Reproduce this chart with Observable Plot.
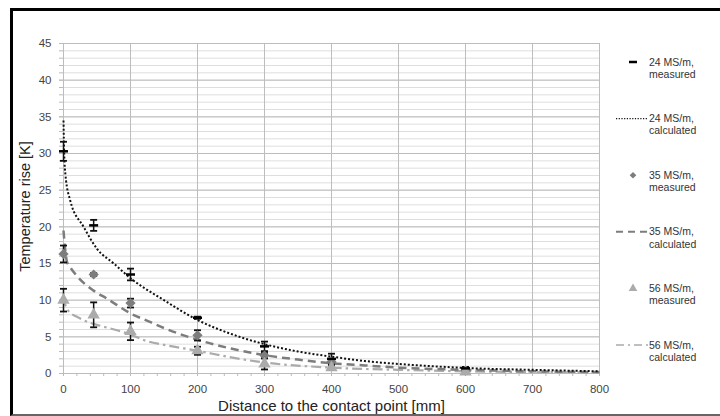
<!DOCTYPE html>
<html>
<head>
<meta charset="utf-8">
<script src="https://cdn.jsdelivr.net/npm/d3@7"></script>
<script src="https://cdn.jsdelivr.net/npm/@observablehq/plot@0.6"></script>
<style>
  html, body { margin: 0; padding: 0; background: #fff; }
  #wrap { position: relative; width: 720px; height: 416px; overflow: hidden; font-family: "Liberation Sans", Arial, sans-serif; }
  #border { position: absolute; left: 10px; top: 8px; width: 730px; height: 403px; border-top: 3px solid #000; border-left: 3px solid #000; border-bottom: 2px solid #666; pointer-events: none; }
  svg { display: block; }
</style>
</head>
<body>
<div id="wrap"><div id="border"></div></div>
<script>
// ---- data ----
const distances = [0, 45, 100, 200, 300, 400, 600];
const meas24 = [30.3, 20.2, 13.5, 7.6, 3.7, 2.0, 0.7];
const err24  = [1.3, 0.75, 0.8, 0.15, 0.65, 0.7, 0.2];
const meas35 = [16.3, 13.5, 9.6, 5.2, 2.45, 1.6, 0.4];
const err35  = [1.15, 0.2, 0.6, 0.7, 0.35, 0.3, 0.15];
const meas56 = [10.0, 8.0, 5.75, 3.1, 1.3, 0.8, 0.2];
const err56  = [1.55, 1.7, 1.2, 0.55, 0.75, 0.25, 0.15];

const calcX24 = [0, 1, 3, 10, 30, 50, 75, 100, 150, 200, 250, 300, 350, 400, 450, 500, 550, 600, 700, 800];
const calc24  = [34.5, 30, 27, 23.6, 20, 17, 15, 13, 10, 7.3, 5.4, 4.0, 3.0, 2.3, 1.7, 1.3, 1.0, 0.75, 0.5, 0.3];
const calcX35 = [0, 3, 5, 10, 20, 45, 65, 100, 130, 150, 200, 250, 300, 350, 400, 450, 500, 600, 700, 800];
const calc35  = [19.5, 16.5, 15.3, 14.5, 13.3, 11.3, 10.2, 8.2, 7.0, 6.2, 4.6, 3.4, 2.5, 1.9, 1.4, 1.1, 0.8, 0.5, 0.3, 0.2];
const calcX56 = [0, 5, 25, 55, 80, 100, 125, 150, 200, 250, 300, 400, 500, 600, 700, 800];
const calc56  = [10.5, 8.8, 7.5, 6.5, 5.9, 5.3, 4.4, 3.9, 3.1, 2.2, 1.5, 0.8, 0.5, 0.3, 0.2, 0.15];

const xTicks = [0, 100, 200, 300, 400, 500, 600, 700, 800];
const yTicks = [0, 5, 10, 15, 20, 25, 30, 35, 40, 45];
const xTitle = "Distance to the contact point [mm]";
const yTitle = "Temperature rise [K]";
const legendLabels = [
  ["24 MS/m,", "measured"],
  ["24 MS/m,", "calculated"],
  ["35 MS/m,", "measured"],
  ["35 MS/m,", "calculated"],
  ["56 MS/m,", "measured"],
  ["56 MS/m,", "calculated"]
];

// ---- styles ----
const C24 = "#111", C35 = "#7d7d7d", C56 = "#ababab";
const dash24 = "2,2", dash35 = "8,5", dash56 = "10,4,2.5,4";

const hline = { draw(ctx, size) { const r = Math.sqrt(size / Math.PI); ctx.moveTo(-r, 0); ctx.lineTo(r, 0); } };

const rows = (xs, ys, es) => xs.map((x, i) => ({x, y: ys[i], e: es[i]}));
const m24 = rows(distances, meas24, err24);
const m35 = rows(distances, meas35, err35);
const m56 = rows(distances, meas56, err56);
const allMeas = [...m24, ...m35, ...m56];
const line = (xs, ys) => xs.map((x, i) => ({x, y: ys[i]}));

const minorY = d3.range(0, 46, 1);
const minorX = d3.range(0, 801, 20);

const chart = Plot.plot({
  width: 720, height: 416,
  marginLeft: 63, marginRight: 121, marginTop: 43, marginBottom: 43,
  x: { domain: [0, 800] },
  y: { domain: [0, 45] },
  style: { fontFamily: "Liberation Sans, Arial, sans-serif", background: "transparent" },
  marks: [
    Plot.ruleY(minorY, { stroke: "#dedede", strokeWidth: 1 }),
    Plot.ruleY(yTicks, { stroke: "#bdbdbd", strokeWidth: 1 }),
    Plot.ruleX(xTicks, { stroke: "#bdbdbd", strokeWidth: 1 }),
    Plot.axisY(minorY, { tickSize: 4, tickFormat: () => "", stroke: "#bbb", label: null }),
    Plot.axisY(yTicks, { tickSize: 4, tickPadding: 8, fontSize: 11.5, fill: "#444", stroke: "#bbb", label: null }),
    Plot.axisX(minorX, { tickSize: 3, tickFormat: () => "", stroke: "#bbb", label: null }),
    Plot.axisX(xTicks, { tickSize: 3, tickPadding: 8, fontSize: 11.5, fill: "#444", stroke: "#bbb", label: null }),
    Plot.text([xTitle], { frameAnchor: "bottom", dy: 33, lineAnchor: "middle", fontSize: 15, fill: "#222" }),
    Plot.text([yTitle], { frameAnchor: "left", dx: -38, dy: -2, rotate: -90, textAnchor: "middle", fontSize: 14.5, fill: "#222" }),
    Plot.line(line(calcX56, calc56), { x: "x", y: "y", stroke: C56, strokeWidth: 2.2, strokeDasharray: dash56, strokeLinecap: "butt", curve: "monotone-x" }),
    Plot.line(line(calcX35, calc35), { x: "x", y: "y", stroke: C35, strokeWidth: 2.5, strokeDasharray: dash35, strokeLinecap: "butt", curve: "monotone-x" }),
    Plot.line(line(calcX24, calc24), { x: "x", y: "y", stroke: C24, strokeWidth: 2, strokeDasharray: dash24, strokeLinecap: "butt", curve: "monotone-x" }),
    Plot.ruleX(allMeas, { x: "x", y1: d => d.y - d.e, y2: d => d.y + d.e, stroke: "#111", strokeWidth: 1.5 }),
    Plot.dot(allMeas, { x: "x", y: d => d.y + d.e, symbol: hline, r: 3.5, stroke: "#111", strokeWidth: 1.8 }),
    Plot.dot(allMeas, { x: "x", y: d => d.y - d.e, symbol: hline, r: 3.5, stroke: "#111", strokeWidth: 1.8 }),
    Plot.dot(m35, { x: "x", y: "y", symbol: "diamond2", r: 4.6, fill: C35 }),
    Plot.dot(m56, { x: "x", y: "y", symbol: "triangle", r: 4.6, fill: C56 }),
    Plot.dot(m24, { x: "x", y: "y", symbol: hline, r: 4.5, stroke: "#000", strokeWidth: 2.5 })
  ]
});

document.getElementById("wrap").insertBefore(chart, document.getElementById("border"));

// ---- legend ----
const svg = d3.select(chart);
const lg = svg.append("g").attr("font-family", "Liberation Sans, Arial, sans-serif").attr("font-size", 10.5).attr("fill", "#333").attr("text-anchor", "start");
const legendY0 = 62, legendStep = 56.6, textX = 649, symX = 633;
legendLabels.forEach((lab, i) => {
  const y = legendY0 + i * legendStep;
  const t = lg.append("text").attr("x", textX).attr("y", y).attr("dy", "0.35em").attr("text-anchor", "start");
  t.append("tspan").attr("x", textX).text(lab[0]);
  t.append("tspan").attr("x", textX).attr("dy", "1.15em").text(lab[1]);
  const s = lg.append("g");
  if (i === 0) s.append("line").attr("x1", symX - 4).attr("x2", symX + 4).attr("y1", y).attr("y2", y).attr("stroke", "#000").attr("stroke-width", 2.5);
  if (i === 1) s.append("line").attr("x1", 616).attr("x2", 647).attr("y1", y).attr("y2", y).attr("stroke", C24).attr("stroke-width", 1.3).attr("stroke-dasharray", "1.2,1.5");
  if (i === 2) s.append("path").attr("d", d3.symbol(d3.symbolDiamond2, 28)()).attr("transform", `translate(${symX},${y})`).attr("fill", C35);
  if (i === 3) s.append("line").attr("x1", 616).attr("x2", 647).attr("y1", y).attr("y2", y).attr("stroke", C35).attr("stroke-width", 2).attr("stroke-dasharray", "7,5");
  if (i === 4) s.append("path").attr("d", d3.symbol(d3.symbolTriangle, 32)()).attr("transform", `translate(${symX},${y})`).attr("fill", C56);
  if (i === 5) s.append("line").attr("x1", 616).attr("x2", 648).attr("y1", y).attr("y2", y).attr("stroke", C56).attr("stroke-width", 1.5).attr("stroke-dasharray", "8,4,2,4");
});
</script>
</body>
</html>
